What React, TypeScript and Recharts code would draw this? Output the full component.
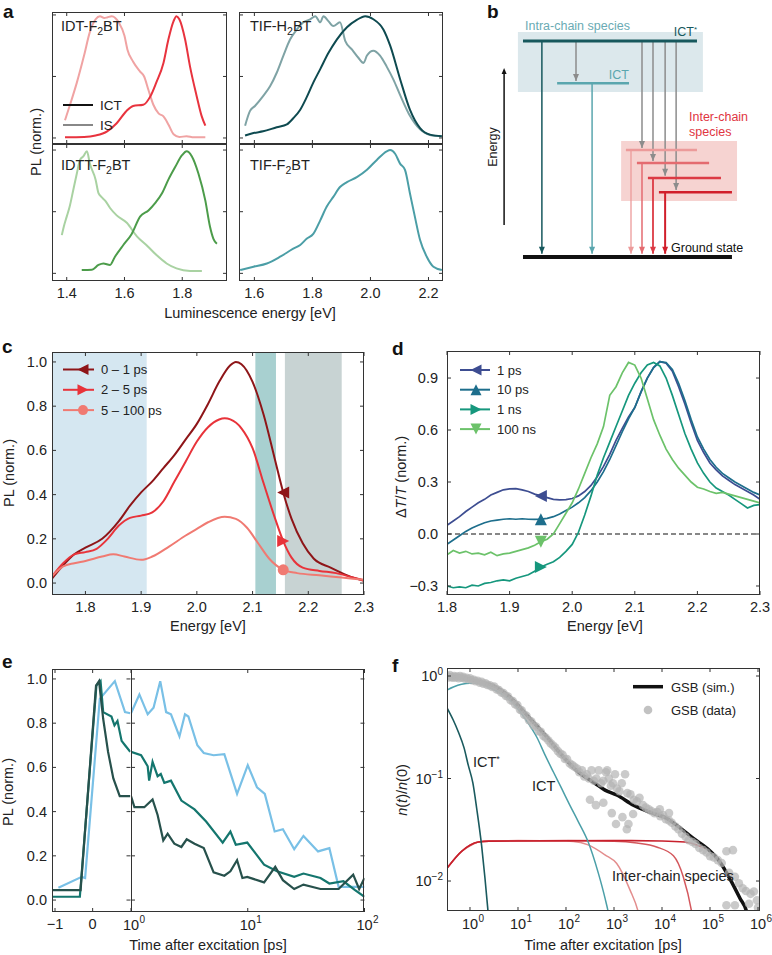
import React from "react";
import {
    ComposedChart,
    Line,
    Scatter,
    XAxis,
    YAxis,
    ReferenceArea,
    ReferenceLine,
    ReferenceDot,
} from "recharts";

const FONT = '"Liberation Sans", Arial, Helvetica, sans-serif';
const AX = "#333";
const TXT = "#222";
const TICK = 4;

type Pair = [number, number];
const pts = (a: Pair[]) => a.map(([x, y]) => ({ x, y }));

// ---- panel a: steady-state PL of the four polymers ----
const idtIS: Pair[] = [[1.394, 0.144], [1.41, 0.26], [1.435, 0.45], [1.46, 0.67], [1.48, 0.86], [1.5, 0.965], [1.515, 0.99], [1.53, 0.975], [1.54, 0.98], [1.556, 0.99], [1.58, 0.94], [1.6, 0.83], [1.61, 0.72], [1.63, 0.62], [1.654, 0.54], [1.668, 0.5], [1.683, 0.39], [1.7, 0.27], [1.718, 0.2], [1.735, 0.175], [1.752, 0.11], [1.77, 0.03], [1.79, 0.008], [1.815, 0.014], [1.84, 0.005], [1.88, 0.005]];
const idtICT: Pair[] = [[1.394, 0.005], [1.46, 0.008], [1.5, 0.02], [1.54, 0.054], [1.573, 0.12], [1.607, 0.22], [1.63, 0.26], [1.665, 0.27], [1.69, 0.34], [1.71, 0.45], [1.735, 0.61], [1.752, 0.8], [1.77, 0.95], [1.78, 0.99], [1.79, 0.965], [1.81, 0.8], [1.827, 0.58], [1.85, 0.34], [1.867, 0.18], [1.88, 0.1]];
const idttIS: Pair[] = [[1.383, 0.31], [1.39, 0.38], [1.4, 0.46], [1.41, 0.54], [1.423, 0.68], [1.435, 0.81], [1.446, 0.92], [1.458, 0.95], [1.47, 0.99], [1.48, 0.89], [1.5, 0.76], [1.51, 0.65], [1.52, 0.62], [1.533, 0.59], [1.55, 0.53], [1.573, 0.47], [1.608, 0.41], [1.643, 0.3], [1.68, 0.22], [1.71, 0.15], [1.746, 0.08], [1.78, 0.04], [1.827, 0.02], [1.868, 0.02]];
const idttICT: Pair[] = [[1.452, 0.027], [1.487, 0.03], [1.51, 0.068], [1.527, 0.08], [1.55, 0.068], [1.567, 0.135], [1.596, 0.23], [1.625, 0.32], [1.654, 0.46], [1.683, 0.51], [1.706, 0.57], [1.73, 0.65], [1.752, 0.76], [1.775, 0.86], [1.8, 0.96], [1.815, 0.99], [1.833, 0.95], [1.856, 0.81], [1.88, 0.59], [1.896, 0.38], [1.908, 0.28], [1.92, 0.24]];
const tifH2IS: Pair[] = [[1.568, 0.1], [1.585, 0.22], [1.602, 0.26], [1.63, 0.34], [1.654, 0.42], [1.677, 0.53], [1.7, 0.67], [1.723, 0.8], [1.746, 0.88], [1.769, 0.94], [1.792, 0.965], [1.81, 0.99], [1.827, 0.94], [1.838, 0.99], [1.855, 0.95], [1.872, 0.91], [1.895, 0.94], [1.913, 0.79], [1.936, 0.72], [1.959, 0.65], [1.976, 0.61], [1.988, 0.67], [2.01, 0.71], [2.033, 0.67], [2.056, 0.58], [2.08, 0.47], [2.102, 0.35], [2.136, 0.18], [2.171, 0.07], [2.205, 0.025], [2.246, 0.015]];
const tifH2ICT: Pair[] = [[1.568, 0.02], [1.597, 0.04], [1.63, 0.054], [1.677, 0.087], [1.712, 0.11], [1.734, 0.16], [1.758, 0.23], [1.78, 0.33], [1.803, 0.45], [1.827, 0.56], [1.855, 0.69], [1.884, 0.8], [1.919, 0.9], [1.953, 0.96], [1.982, 0.99], [2.01, 0.965], [2.045, 0.88], [2.068, 0.75], [2.102, 0.48], [2.136, 0.23], [2.171, 0.08], [2.205, 0.027], [2.246, 0.014]];
const tifF2ICT: Pair[] = [[1.551, 0.027], [1.597, 0.054], [1.643, 0.08], [1.689, 0.135], [1.734, 0.2], [1.758, 0.23], [1.78, 0.28], [1.803, 0.32], [1.827, 0.43], [1.849, 0.54], [1.872, 0.62], [1.895, 0.7], [1.919, 0.74], [1.953, 0.78], [1.988, 0.84], [2.022, 0.92], [2.056, 0.99], [2.068, 1.0], [2.085, 0.97], [2.102, 0.89], [2.119, 0.84], [2.136, 0.65], [2.153, 0.46], [2.171, 0.27], [2.194, 0.135], [2.217, 0.054], [2.246, 0.027]];

// ---- panel b: energy level scheme ----
const intraLevels = [
    { name: "ICT*", e: 10.0, x0: 11.7, x1: 73.4, drop: 18.4, color: "#17585d", width: 3 },
    { name: "ICT", e: 8.05, x0: 23.8, x1: 49.3, drop: 36.2, color: "#5aa6ae", width: 2.5 },
];
const interLevels = [
    { e: 4.95, x0: 48.2, x1: 73.4, drop: 50.0, feed: 53.9, color: "#ec9a9a", width: 1.3 },
    { e: 4.35, x0: 52.1, x1: 77.7, drop: 53.9, feed: 57.8, color: "#e46b70", width: 1.5 },
    { e: 3.66, x0: 56.0, x1: 81.9, drop: 57.8, feed: 62.1, color: "#dc3a44", width: 1.8 },
    { e: 3.0, x0: 59.9, x1: 85.8, drop: 62.1, feed: 66.0, color: "#d11f2b", width: 2 },
];
const relaxICT = { x: 30.5, from: 10.0, to: 8.05 };
const ground = { e: 0, x0: 11.7, x1: 85.8 };
const intraBox = { x0: 9.9, x1: 75.5, e0: 7.64, e1: 10.42 };
const interBox = { x0: 46.5, x1: 87.6, e0: 2.59, e1: 5.37 };
const energyAxis = { x: 5.0, e0: 1.48, e1: 8.61 };

// ---- panel c: time-resolved PL spectra ----
const c01: Pair[] = [[1.74, 0.02], [1.76, 0.08], [1.78, 0.13], [1.8, 0.16], [1.83, 0.2], [1.86, 0.28], [1.88, 0.35], [1.9, 0.41], [1.92, 0.46], [1.94, 0.52], [1.96, 0.58], [1.98, 0.65], [2.0, 0.72], [2.02, 0.81], [2.04, 0.91], [2.06, 0.985], [2.07, 1.0], [2.08, 0.99], [2.1, 0.91], [2.12, 0.76], [2.14, 0.56], [2.155, 0.41], [2.17, 0.29], [2.19, 0.18], [2.21, 0.11], [2.24, 0.07], [2.27, 0.035], [2.3, 0.01]];
const c25: Pair[] = [[1.74, 0.03], [1.76, 0.09], [1.78, 0.13], [1.8, 0.14], [1.82, 0.155], [1.84, 0.2], [1.86, 0.26], [1.88, 0.295], [1.9, 0.305], [1.92, 0.32], [1.94, 0.37], [1.96, 0.46], [1.98, 0.55], [2.0, 0.64], [2.02, 0.705], [2.04, 0.74], [2.05, 0.745], [2.06, 0.74], [2.08, 0.7], [2.1, 0.61], [2.12, 0.45], [2.14, 0.295], [2.155, 0.19], [2.17, 0.115], [2.19, 0.07], [2.22, 0.055], [2.25, 0.045], [2.28, 0.025], [2.3, 0.012]];
const c5100: Pair[] = [[1.74, 0.03], [1.76, 0.075], [1.78, 0.09], [1.8, 0.1], [1.83, 0.12], [1.85, 0.13], [1.87, 0.12], [1.9, 0.105], [1.92, 0.12], [1.95, 0.165], [1.98, 0.215], [2.0, 0.245], [2.02, 0.275], [2.05, 0.3], [2.07, 0.29], [2.09, 0.25], [2.11, 0.18], [2.13, 0.11], [2.155, 0.06], [2.18, 0.045], [2.22, 0.035], [2.26, 0.025], [2.3, 0.015]];
const cBands = [
    { x1: 1.74, x2: 1.91, color: "#d5e7f1" },
    { x1: 2.105, x2: 2.142, color: "#a8d0d0" },
    { x1: 2.158, x2: 2.26, color: "#c8d3d3" },
];
const cSeries = [
    { name: "0 \u2013 1 ps", color: "#8e1518", data: c01, marker: "l", at: [2.155, 0.41] },
    { name: "2 \u2013 5 ps", color: "#e8333a", data: c25, marker: "r", at: [2.155, 0.19] },
    { name: "5 \u2013 100 ps", color: "#f07a72", data: c5100, marker: "o", at: [2.155, 0.06] },
];

// ---- panel d: transient absorption ----
const dEnergy = [1.8, 1.81, 1.82, 1.83, 1.84, 1.85, 1.86, 1.87, 1.88, 1.89, 1.9, 1.91, 1.92, 1.93, 1.94, 1.95, 1.96, 1.97, 1.98, 1.99, 2.0, 2.01, 2.02, 2.03, 2.04, 2.05, 2.06, 2.07, 2.08, 2.09, 2.1, 2.11, 2.12, 2.13, 2.14, 2.15, 2.16, 2.17, 2.18, 2.19, 2.2, 2.21, 2.22, 2.23, 2.24, 2.25, 2.26, 2.27, 2.28, 2.29, 2.3];
const d1ps = [0.05, 0.075, 0.1, 0.13, 0.155, 0.18, 0.2, 0.225, 0.24, 0.255, 0.26, 0.262, 0.255, 0.245, 0.23, 0.22, 0.21, 0.2, 0.197, 0.198, 0.205, 0.22, 0.245, 0.28, 0.33, 0.39, 0.46, 0.54, 0.61, 0.675, 0.73, 0.82, 0.9, 0.96, 0.995, 0.985, 0.94, 0.85, 0.75, 0.64, 0.54, 0.47, 0.41, 0.37, 0.335, 0.31, 0.285, 0.265, 0.245, 0.225, 0.2];
const d10ps = [-0.06, -0.035, -0.01, 0.015, 0.035, 0.05, 0.065, 0.075, 0.08, 0.085, 0.088, 0.085, 0.088, 0.085, 0.084, 0.086, 0.09, 0.1, 0.115, 0.135, 0.155, 0.18, 0.21, 0.25, 0.3, 0.36, 0.43, 0.51, 0.59, 0.665, 0.73, 0.82, 0.9, 0.96, 0.995, 0.99, 0.95, 0.87, 0.77, 0.66, 0.56, 0.49, 0.43, 0.385, 0.35, 0.325, 0.3, 0.28, 0.26, 0.24, 0.225];
const d1ns = [-0.3, -0.31, -0.305, -0.31, -0.295, -0.3, -0.285, -0.28, -0.27, -0.265, -0.27, -0.255, -0.245, -0.235, -0.215, -0.19, -0.175, -0.16, -0.135, -0.1, -0.06, 0.01, 0.11, 0.22, 0.34, 0.44, 0.53, 0.62, 0.71, 0.8, 0.87, 0.93, 0.975, 0.99, 0.97, 0.9, 0.8, 0.69, 0.58, 0.49, 0.41, 0.35, 0.3, 0.265, 0.245, 0.225, 0.2, 0.175, 0.15, 0.165, 0.17];
const d100ns = [-0.12, -0.095, -0.11, -0.1, -0.115, -0.11, -0.12, -0.105, -0.125, -0.115, -0.11, -0.1, -0.09, -0.08, -0.065, -0.045, -0.03, 0.0, 0.06, 0.12, 0.18, 0.26, 0.35, 0.44, 0.52, 0.62, 0.8, 0.85, 0.93, 0.99, 0.975, 0.9, 0.78, 0.66, 0.57, 0.49, 0.43, 0.38, 0.34, 0.3, 0.27, 0.26, 0.245, 0.235, 0.24, 0.23, 0.22, 0.21, 0.2, 0.19, 0.18];
const dSeries = [
    { name: "1 ps", color: "#3d4d91", vals: d1ps, marker: "l", at: [1.95, 0.22] },
    { name: "10 ps", color: "#1d6e8c", vals: d10ps, marker: "u", at: [1.95, 0.085] },
    { name: "1 ns", color: "#16977d", vals: d1ns, marker: "r", at: [1.95, -0.19] },
    { name: "100 ns", color: "#6cc26a", vals: d100ns, marker: "d", at: [1.95, -0.045] },
];

// ---- panel e: PL kinetics (linear part t<=1 ps, log part t>=1 ps) ----
const eLightLin: Pair[] = [[-0.91, 0.056], [-0.29, 0.105], [-0.2, 0.1], [0.19, 0.91], [0.59, 0.99], [0.86, 0.85], [1.0, 0.845]];
const eTealLin: Pair[] = [[-1.08, 0.015], [-0.34, 0.015], [0.1, 0.97], [0.21, 0.99], [0.28, 0.85], [0.5, 0.83], [0.58, 0.79], [0.66, 0.81], [0.77, 0.72], [0.86, 0.7], [1.0, 0.67]];
const eDarkLin: Pair[] = [[-1.08, 0.045], [-0.32, 0.045], [0.09, 0.97], [0.17, 0.99], [0.28, 0.82], [0.41, 0.67], [0.55, 0.55], [0.72, 0.47], [1.0, 0.47]];
const eLightLog: Pair[] = [[1, 0.845], [1.18, 0.93], [1.39, 0.84], [1.56, 0.87], [1.78, 0.99], [2.0, 0.85], [2.2, 0.84], [2.6, 0.74], [2.9, 0.84], [3.1, 0.83], [3.7, 0.7], [4.2, 0.665], [5.1, 0.655], [6.3, 0.66], [8.1, 0.48], [10, 0.61], [12, 0.51], [14, 0.48], [17, 0.31], [20, 0.32], [25, 0.23], [30, 0.29], [40, 0.22], [50, 0.235], [60, 0.06], [75, 0.06], [100, 0.06]];
const eTealLog: Pair[] = [[1, 0.67], [1.22, 0.655], [1.39, 0.605], [1.43, 0.54], [1.53, 0.625], [1.69, 0.56], [1.8, 0.57], [1.93, 0.53], [2.2, 0.54], [2.7, 0.45], [3.5, 0.41], [4.4, 0.355], [6.1, 0.26], [7.1, 0.31], [7.9, 0.25], [9.9, 0.26], [11.7, 0.21], [13.8, 0.16], [17.8, 0.13], [25, 0.105], [30, 0.12], [42, 0.1], [50, 0.075], [66, 0.085], [83, 0.045], [100, 0.015]];
const eDarkLog: Pair[] = [[1, 0.47], [1.07, 0.42], [1.3, 0.42], [1.53, 0.455], [1.69, 0.385], [1.89, 0.27], [2.06, 0.3], [2.35, 0.255], [2.7, 0.24], [3.0, 0.275], [3.5, 0.255], [4.2, 0.235], [5.1, 0.125], [6.3, 0.11], [7.1, 0.13], [8.1, 0.18], [9.0, 0.1], [9.9, 0.105], [13.8, 0.08], [17.2, 0.15], [20, 0.09], [25, 0.05], [30, 0.07], [42, 0.05], [60, 0.05], [80, 0.115], [90, 0.05], [100, 0.1]];
const eSeries = [
    { color: "#79c0e6", lin: eLightLin, log: eLightLog },
    { color: "#14766e", lin: eTealLin, log: eTealLog },
    { color: "#27514c", lin: eDarkLin, log: eDarkLog },
];

// ---- panel f: population model ----
const fICTs: Pair[] = [[0.332, 0.49], [0.45, 0.37], [0.57, 0.286], [0.75, 0.2], [0.92, 0.135], [1.15, 0.09], [1.38, 0.051], [1.75, 0.022], [2.05, 0.0107], [2.4, 0.0048], [2.6, 0.003]];
const fICT: Pair[] = [[0.332, 0.73], [0.45, 0.78], [0.67, 0.83], [1.0, 0.85], [1.49, 0.85], [2.2, 0.8], [3.3, 0.73], [5, 0.65], [7.4, 0.56], [11, 0.45], [16.4, 0.345], [25, 0.25], [36.5, 0.17], [55, 0.115], [81, 0.08], [120, 0.055], [180, 0.038], [290, 0.024], [470, 0.012], [650, 0.0068], [770, 0.0048], [900, 0.003]];
const fInterA: Pair[] = [[0.332, 0.0133], [0.67, 0.0195], [1.0, 0.022], [1.49, 0.024], [2.5, 0.0245], [10, 0.0248], [100, 0.0246], [200, 0.0238], [290, 0.0225], [650, 0.018], [1140, 0.0148], [2150, 0.0082], [3200, 0.005], [3800, 0.0035]];
const fInterB: Pair[] = [[0.332, 0.0133], [0.67, 0.0195], [1.49, 0.024], [2.5, 0.0245], [100, 0.0248], [1000, 0.0245], [3000, 0.0235], [7700, 0.0215], [17300, 0.0176], [27700, 0.011], [41500, 0.005], [47000, 0.0035]];
const fInterC: Pair[] = [[0.332, 0.0133], [0.67, 0.0195], [1.49, 0.024], [2.5, 0.0245], [1000, 0.0248], [10000, 0.0246], [30000, 0.024], [60000, 0.022], [100000, 0.0195], [160000, 0.0154], [260000, 0.0105], [420000, 0.0068], [580000, 0.005], [680000, 0.0035]];
const fSim: Pair[] = [[0.332, 0.985], [0.67, 0.97], [1.0, 0.93], [1.49, 0.88], [3.3, 0.79], [7.4, 0.6], [16.4, 0.4], [36.5, 0.266], [81, 0.17], [180, 0.116], [400, 0.09], [650, 0.077], [1140, 0.069], [2540, 0.055], [5600, 0.047], [12400, 0.041], [23700, 0.033], [45000, 0.026], [85000, 0.021], [160000, 0.0154], [260000, 0.0105], [420000, 0.0068], [580000, 0.005], [680000, 0.0035]];
const fData: Pair[] = [
    [0.34, 1.0], [0.36, 0.97], [0.38, 1.02], [0.41, 0.98], [0.44, 0.96], [0.47, 1.0], [0.5, 0.97], [0.54, 0.99], [0.58, 0.95], [0.62, 1.0], [0.67, 0.96], [0.72, 0.98], [0.78, 0.94], [0.85, 0.96], [0.92, 0.93], [1.0, 0.95],
    [1.1, 0.91], [1.2, 0.92], [1.3, 0.89], [1.45, 0.9], [1.6, 0.86], [1.75, 0.88], [1.9, 0.84], [2.1, 0.85], [2.3, 0.82], [2.6, 0.81], [2.9, 0.78], [3.2, 0.79], [3.6, 0.74], [4.0, 0.73], [4.5, 0.69], [5.0, 0.68], [5.6, 0.64], [6.2, 0.63], [7.0, 0.58], [7.8, 0.57], [8.7, 0.53], [9.7, 0.52],
    [11, 0.47], [12, 0.46], [13.5, 0.42], [15, 0.41], [17, 0.37], [19, 0.36], [21, 0.33], [24, 0.32], [27, 0.29], [30, 0.285], [34, 0.26], [38, 0.25], [43, 0.235], [48, 0.22], [54, 0.21], [60, 0.2], [68, 0.185], [76, 0.175], [85, 0.17], [95, 0.155],
    [105, 0.155], [120, 0.14], [135, 0.135], [150, 0.13], [170, 0.125], [190, 0.115], [215, 0.12], [240, 0.105], [270, 0.11], [300, 0.1], [340, 0.12], [380, 0.095], [430, 0.1], [480, 0.12], [540, 0.09], [600, 0.095], [680, 0.115], [720, 0.12], [780, 0.1], [860, 0.085], [950, 0.09],
    [1050, 0.11], [1150, 0.08], [1300, 0.075], [1450, 0.09], [1700, 0.11], [1900, 0.072], [2200, 0.07], [2600, 0.062], [3000, 0.06], [3400, 0.065], [4000, 0.055], [4600, 0.052], [5300, 0.05], [6100, 0.048], [7000, 0.046], [8000, 0.047], [9200, 0.043],
    [10500, 0.044], [12000, 0.04], [14000, 0.039], [16000, 0.037], [19000, 0.034], [22000, 0.032], [26000, 0.029], [31000, 0.027], [36000, 0.025], [43000, 0.024], [50000, 0.023], [60000, 0.021], [72000, 0.02], [85000, 0.019],
    [100000, 0.0175], [120000, 0.017], [145000, 0.016], [175000, 0.015], [220000, 0.0195], [300000, 0.02], [250000, 0.012], [330000, 0.011], [400000, 0.0095], [480000, 0.0085], [560000, 0.008], [700000, 0.0075], [820000, 0.0079], [950000, 0.0065], [220000, 0.0058], [330000, 0.0058], [650000, 0.006], [1000000, 0.0055],
    [316, 0.062], [420, 0.055], [600, 0.058], [900, 0.046], [1100, 0.036], [1500, 0.042], [1850, 0.032], [2000, 0.036], [2500, 0.045], [14000, 0.046], [9000, 0.05],
];

// ---- axis helpers ----
type Fmt = "none" | "log" | number;
const num = (v: number, d: number) => v.toFixed(d).replace("-", "\u2212");
const expo = (v: number) => num(Math.round(Math.log10(v)), 0);
const tf = { fontFamily: FONT, fontSize: 14.5, fill: TXT };

function bottomTick(h: number, fmt: Fmt) {
    return (t: any) => {
        const { x, y, payload } = t;
        const v = payload.value;
        return (
            <g>
                <line x1={x} x2={x} y1={y} y2={y - TICK} stroke={AX} />
                <line x1={x} x2={x} y1={y - h} y2={y - h + TICK} stroke={AX} />
                {fmt === "log" ? (
                    <g>
                        <text x={x} y={y + 18} textAnchor="middle" {...tf}>10</text>
                        <text x={x + 8.5} y={y + 11} {...tf} fontSize={10}>{expo(v)}</text>
                    </g>
                ) : fmt !== "none" ? (
                    <text x={x} y={y + 17} textAnchor="middle" {...tf}>{num(v, fmt)}</text>
                ) : null}
            </g>
        );
    };
}

function leftTick(w: number, fmt: Fmt, gap: number, atLeft: boolean, atRight: boolean) {
    return (t: any) => {
        const { x, y, payload } = t;
        const v = payload.value;
        return (
            <g>
                {atLeft && <line x1={x} x2={x + TICK} y1={y} y2={y} stroke={AX} />}
                {atRight && <line x1={x + w} x2={x + w - TICK} y1={y} y2={y} stroke={AX} />}
                {fmt === "log" ? (
                    <text x={x - gap} y={y + 5} textAnchor="end" {...tf}>
                        10<tspan dy={-6} fontSize={10}>{expo(v)}</tspan>
                    </text>
                ) : fmt !== "none" ? (
                    <text x={x - gap} y={y + 5} textAnchor="end" {...tf}>{num(v, fmt)}</text>
                ) : null}
            </g>
        );
    };
}

type PlotProps = {
    left: number; top: number; w: number; h: number;
    xDomain: [number, number]; yDomain: [number, number];
    xTicks: number[]; yTicks: number[];
    xLog?: boolean; yLog?: boolean;
    xFmt: Fmt; yFmt: Fmt;
    yGap?: number;
    padL?: number; padR?: number;
    yLeft?: boolean; yRight?: boolean;
    openRight?: boolean;
    children?: React.ReactNode;
};

function Plot(p: PlotProps) {
    const padL = p.padL ?? 50;
    const padR = p.padR ?? 20;
    const padT = 4;
    const padB = 24;
    return (
        <div style={{ position: "absolute", left: p.left - padL, top: p.top - padT }}>
            <ComposedChart width={p.w + padL + padR} height={p.h + padT + padB} margin={{ top: padT, right: padR, bottom: 0, left: 0 }}>
                <XAxis type="number" dataKey="x" scale={p.xLog ? "log" : "linear"} domain={p.xDomain} allowDataOverflow
                    ticks={p.xTicks} interval={0} height={padB} tickSize={0} tickMargin={0} tickLine={false} axisLine={false}
                    tick={bottomTick(p.h, p.xFmt)} />
                <YAxis type="number" scale={p.yLog ? "log" : "linear"} domain={p.yDomain} allowDataOverflow
                    ticks={p.yTicks} interval={0} width={padL} tickSize={0} tickMargin={0} tickLine={false} axisLine={false}
                    tick={leftTick(p.w, p.yFmt, p.yGap ?? 5, p.yLeft ?? true, p.yRight ?? true)} />
                {p.children}
            </ComposedChart>
            <div style={{
                position: "absolute", left: padL, top: padT, width: p.w, height: p.h,
                border: `1px solid ${AX}`, borderRight: p.openRight ? "none" : `1px solid ${AX}`,
                boxSizing: "border-box", pointerEvents: "none",
            }} />
        </div>
    );
}

const curve = (d: Pair[], color: string, w = 2, type: "monotone" | "linear" = "monotone") => (
    <Line data={pts(d)} dataKey="y" type={type} stroke={color} strokeWidth={w} dot={false} isAnimationActive={false} />
);

function tri(cx: number, cy: number, dir: string, s: number) {
    if (dir === "l") return `M${cx - s},${cy} L${cx + s},${cy - s} L${cx + s},${cy + s} Z`;
    if (dir === "r") return `M${cx + s},${cy} L${cx - s},${cy - s} L${cx - s},${cy + s} Z`;
    if (dir === "u") return `M${cx},${cy - s} L${cx - s},${cy + s} L${cx + s},${cy + s} Z`;
    return `M${cx},${cy + s} L${cx - s},${cy - s} L${cx + s},${cy - s} Z`;
}

const marker = (dir: string, color: string, cx: number, cy: number, s = 5) =>
    dir === "o" ? <circle cx={cx} cy={cy} r={s} fill={color} /> : <path d={tri(cx, cy, dir, s)} fill={color} />;

const arrowDown = (color: string) => (p: any) => (
    <path d={`M${p.cx},${p.cy} L${p.cx - 3},${p.cy - 7} L${p.cx + 3},${p.cy - 7} Z`} fill={color} />
);

const A_L_X: [number, number] = [1.349, 1.955];
const A_R_X: [number, number] = [1.547, 2.25];
const A_T_Y: [number, number] = [-0.049, 1.024];
const A_B_Y: [number, number] = [-0.062, 1.049];

function Scheme() {
    return (
        <div style={{ position: "absolute", left: 490, top: 0 }}>
            <ComposedChart width={282} height={280} margin={{ top: 0, right: 0, bottom: 0, left: 0 }}>
                <XAxis type="number" dataKey="x" domain={[0, 100]} hide allowDataOverflow />
                <YAxis type="number" domain={[-1.065, 11.9]} hide allowDataOverflow />
                <ReferenceArea x1={intraBox.x0} x2={intraBox.x1} y1={intraBox.e0} y2={intraBox.e1} fill="#dce8ec" fillOpacity={1} stroke="none" />
                <ReferenceArea x1={interBox.x0} x2={interBox.x1} y1={interBox.e0} y2={interBox.e1} fill="#f6d3d1" fillOpacity={1} stroke="none" />
                {/* energy axis */}
                <ReferenceLine segment={[{ x: energyAxis.x, y: energyAxis.e0 }, { x: energyAxis.x, y: energyAxis.e1 }]} stroke="#111" strokeWidth={1.5} />
                <ReferenceDot x={energyAxis.x} y={energyAxis.e1} r={3} shape={(p: any) => <path d={`M${p.cx},${p.cy - 3} L${p.cx - 2.5},${p.cy + 3} L${p.cx + 2.5},${p.cy + 3} Z`} fill="#111" />} />
                {/* radiative decay of intra-chain species */}
                {intraLevels.map((l) => (
                    <ReferenceLine key={"d" + l.name} segment={[{ x: l.drop, y: l.e }, { x: l.drop, y: 0.15 }]} stroke={l.color} strokeWidth={1.5} />
                ))}
                {intraLevels.map((l) => (
                    <ReferenceDot key={"h" + l.name} x={l.drop} y={0.15} r={3} shape={arrowDown(l.color)} />
                ))}
                {/* ICT* -> ICT relaxation */}
                <ReferenceLine segment={[{ x: relaxICT.x, y: relaxICT.from }, { x: relaxICT.x, y: relaxICT.to + 0.1 }]} stroke="#8c8c8c" strokeWidth={1.5} />
                <ReferenceDot x={relaxICT.x} y={relaxICT.to + 0.1} r={3} shape={arrowDown("#8c8c8c")} />
                {/* transfer to inter-chain species */}
                {interLevels.map((l, i) => (
                    <ReferenceLine key={"g" + i} segment={[{ x: l.feed, y: 10 }, { x: l.feed, y: l.e + 0.1 }]} stroke="#8c8c8c" strokeWidth={1.5} />
                ))}
                {interLevels.map((l, i) => (
                    <ReferenceDot key={"gh" + i} x={l.feed} y={l.e + 0.1} r={3} shape={arrowDown("#8c8c8c")} />
                ))}
                {interLevels.map((l, i) => (
                    <ReferenceLine key={"r" + i} segment={[{ x: l.drop, y: l.e }, { x: l.drop, y: 0.15 }]} stroke={l.color} strokeWidth={l.width} />
                ))}
                {interLevels.map((l, i) => (
                    <ReferenceDot key={"rh" + i} x={l.drop} y={0.15} r={3} shape={arrowDown(l.color)} />
                ))}
                {/* levels */}
                {intraLevels.map((l) => (
                    <ReferenceLine key={l.name} segment={[{ x: l.x0, y: l.e }, { x: l.x1, y: l.e }]} stroke={l.color} strokeWidth={l.width} />
                ))}
                {interLevels.map((l, i) => (
                    <ReferenceLine key={"l" + i} segment={[{ x: l.x0, y: l.e }, { x: l.x1, y: l.e }]} stroke={l.color} strokeWidth={2.5} />
                ))}
                <ReferenceLine segment={[{ x: ground.x0, y: ground.e }, { x: ground.x1, y: ground.e }]} stroke="#111" strokeWidth={4} />
            </ComposedChart>
        </div>
    );
}

const sub = (s: string) => <tspan dy={4} fontSize={10.5}>{s}</tspan>;

export default function App() {
    const lab = { fontFamily: FONT, fill: TXT };
    return (
        <div style={{ position: "absolute", left: 0, top: 0, width: 772, height: 955, background: "#fff", overflow: "hidden" }}>
            {/* a */}
            <Plot left={52} top={12} w={175} h={132} xDomain={A_L_X} yDomain={A_T_Y} xTicks={[1.4, 1.6, 1.8]} yTicks={[0, 0.5, 1]} xFmt="none" yFmt="none" padL={10}>
                {curve(idtIS, "#f0a3a3")}
                {curve(idtICT, "#e8333e")}
            </Plot>
            <Plot left={52} top={144} w={175} h={137} xDomain={A_L_X} yDomain={A_B_Y} xTicks={[1.4, 1.6, 1.8]} yTicks={[0, 0.5, 1]} xFmt={1} yFmt="none" padL={10}>
                {curve(idttIS, "#a9d2a2")}
                {curve(idttICT, "#4c9c4a")}
            </Plot>
            <Plot left={239} top={12} w={204} h={132} xDomain={A_R_X} yDomain={A_T_Y} xTicks={[1.6, 1.8, 2.0, 2.2]} yTicks={[0, 0.5, 1]} xFmt="none" yFmt="none" padL={10}>
                {curve(tifH2IS, "#7fa3a5")}
                {curve(tifH2ICT, "#0e4a50")}
            </Plot>
            <Plot left={239} top={144} w={204} h={137} xDomain={A_R_X} yDomain={A_B_Y} xTicks={[1.6, 1.8, 2.0, 2.2]} yTicks={[0, 0.5, 1]} xFmt={1} yFmt="none" padL={10}>
                {curve(tifF2ICT, "#4b9ea6")}
            </Plot>

            {/* b */}
            <Scheme />

            {/* c */}
            <Plot left={52} top={352} w={312} h={243} xDomain={[1.74, 2.3]} yDomain={[-0.054, 1.045]} xTicks={[1.8, 1.9, 2.0, 2.1, 2.2, 2.3]} yTicks={[0, 0.2, 0.4, 0.6, 0.8, 1.0]} xFmt={1} yFmt={1} yGap={5}>
                {cBands.map((b, i) => (
                    <ReferenceArea key={i} x1={b.x1} x2={b.x2} fill={b.color} fillOpacity={1} stroke="none" />
                ))}
                {cSeries.map((s) => curve(s.data as Pair[], s.color, 2))}
                {cSeries.map((s) => (
                    <ReferenceDot key={s.name} x={s.at[0]} y={s.at[1]} r={5} shape={(p: any) => marker(s.marker, s.color, p.cx, p.cy, s.marker === "o" ? 5.5 : 6)} />
                ))}
            </Plot>

            {/* d */}
            <Plot left={447} top={351} w={313} h={244} xDomain={[1.8, 2.3]} yDomain={[-0.352, 1.056]} xTicks={[1.8, 1.9, 2.0, 2.1, 2.2, 2.3]} yTicks={[-0.3, 0, 0.3, 0.6, 0.9]} xFmt={1} yFmt={1} yGap={9}>
                <ReferenceLine y={0} stroke="#111" strokeWidth={1.2} strokeDasharray="5 3" />
                {dSeries.map((s) => curve(dEnergy.map((e, i) => [e, s.vals[i]] as Pair), s.color, 1.7, "linear"))}
                {dSeries.map((s) => (
                    <ReferenceDot key={s.name} x={s.at[0]} y={s.at[1]} r={5} shape={(p: any) => marker(s.marker, s.color, p.cx, p.cy, 6)} />
                ))}
            </Plot>

            {/* e */}
            <Plot left={52} top={669} w={78.5} h={243} xDomain={[-1.08, 1.006]} yDomain={[-0.054, 1.045]} xTicks={[-1, 0]} yTicks={[0, 0.2, 0.4, 0.6, 0.8, 1.0]} xFmt={0} yFmt={1} yGap={5} padR={0} openRight>
                {eSeries.map((s) => curve(s.lin, s.color, 2.2, "linear"))}
            </Plot>
            <Plot left={130.5} top={669} w={233.5} h={243} xLog xDomain={[1, 100]} yDomain={[-0.054, 1.045]} xTicks={[1, 10, 100]} yTicks={[0, 0.2, 0.4, 0.6, 0.8, 1.0]} xFmt="log" yFmt="none" padL={20}>
                {eSeries.map((s) => curve(s.log, s.color, 2.2, "linear"))}
            </Plot>

            {/* f */}
            <Plot left={447} top={668} w={313} h={243} xLog yLog xDomain={[0.332, 1.1e6]} yDomain={[0.0051, 1.197]} xTicks={[1, 10, 100, 1e3, 1e4, 1e5, 1e6]} yTicks={[0.01, 0.1, 1]} xFmt="log" yFmt="log" yGap={4}>
                <Scatter data={pts(fData)} dataKey="y" isAnimationActive={false} shape={(p: any) => <circle cx={p.cx} cy={p.cy} r={4.3} fill="#b3b3b3" fillOpacity={0.7} />} />
                {curve(fInterA, "#e38d8d", 1.5)}
                {curve(fInterB, "#d4585d", 1.5)}
                {curve(fInterC, "#c8202c", 1.6)}
                {curve(fICTs, "#1a5a5e", 1.6)}
                {curve(fICT, "#4b9fa8", 1.5)}
                {curve(fSim, "#111", 3.5)}
            </Plot>

            {/* texts, legends */}
            <svg width={772} height={955} style={{ position: "absolute", left: 0, top: 0, pointerEvents: "none" }}>
                {[["a", 3, 18], ["b", 487, 18], ["c", 2, 353], ["d", 392, 355], ["e", 2, 668], ["f", 392, 672]].map(([t, x, y]) => (
                    <text key={t as string} x={x as number} y={y as number} {...lab} fontSize={19} fontWeight="bold" fill="#111">{t}</text>
                ))}

                {/* a */}
                <text x={61} y={31} {...lab} fontSize={14.5}>IDT-F{sub("2")}<tspan dy={-4}>BT</tspan></text>
                <text x={250} y={31} {...lab} fontSize={14.5}>TIF-H{sub("2")}<tspan dy={-4}>BT</tspan></text>
                <text x={61} y={170} {...lab} fontSize={14.5}>IDTT-F{sub("2")}<tspan dy={-4}>BT</tspan></text>
                <text x={250} y={170} {...lab} fontSize={14.5}>TIF-F{sub("2")}<tspan dy={-4}>BT</tspan></text>
                <line x1={63} x2={93} y1={105} y2={105} stroke="#111" strokeWidth={2} />
                <text x={100} y={110} {...lab} fontSize={13.5}>ICT</text>
                <line x1={63} x2={93} y1={125} y2={125} stroke="#888" strokeWidth={2} />
                <text x={100} y={130} {...lab} fontSize={13.5}>IS</text>
                <text transform="translate(36,142) rotate(-90)" x={0} y={5} textAnchor="middle" {...lab} fontSize={14.5}>PL (norm.)</text>
                <text x={250} y={318} textAnchor="middle" {...lab} fontSize={14.5}>Luminescence energy [eV]</text>

                {/* b */}
                <text x={525} y={30} {...lab} fontSize={12.5} fill="#6aabb4">Intra-chain species</text>
                <text x={697} y={36} textAnchor="end" {...lab} fontSize={12.5} fill="#17585d">ICT<tspan dy={-4} fontSize={8}>*</tspan></text>
                <text x={629} y={79} textAnchor="end" {...lab} fontSize={12.5} fill="#5aa6ae">ICT</text>
                <text x={689} y={121} {...lab} fontSize={12.5} fill="#e0353f">Inter-chain</text>
                <text x={689} y={136} {...lab} fontSize={12.5} fill="#e0353f">species</text>
                <text transform="translate(493,147) rotate(-90)" x={0} y={4} textAnchor="middle" {...lab} fontSize={12.5}>Energy</text>
                <text x={671} y={252} {...lab} fontSize={12.5} fill="#111">Ground state</text>

                {/* c */}
                {cSeries.map((s, i) => (
                    <g key={s.name}>
                        <line x1={63} x2={94} y1={369.5 + i * 20.3} y2={369.5 + i * 20.3} stroke={s.color} strokeWidth={2} />
                        {marker(s.marker, s.color, 83, 369.5 + i * 20.3, s.marker === "o" ? 5 : 5.5)}
                        <text x={101} y={374 + i * 20.3} {...lab} fontSize={13}>{s.name}</text>
                    </g>
                ))}
                <text transform="translate(8.5,473) rotate(-90)" x={0} y={5} textAnchor="middle" {...lab} fontSize={14.5}>PL (norm.)</text>
                <text x={208} y={631} textAnchor="middle" {...lab} fontSize={14.5}>Energy [eV]</text>

                {/* d */}
                {dSeries.map((s, i) => (
                    <g key={s.name}>
                        <line x1={460} x2={490} y1={370 + i * 19.7} y2={370 + i * 19.7} stroke={s.color} strokeWidth={2} />
                        {marker(s.marker, s.color, 476, 370 + i * 19.7, 5.5)}
                        <text x={497} y={374.5 + i * 19.7} {...lab} fontSize={13}>{s.name}</text>
                    </g>
                ))}
                <text transform="translate(401,477) rotate(-90)" x={0} y={5} textAnchor="middle" {...lab} fontSize={14.5}>
                    {"\u0394"}<tspan fontStyle="italic">T</tspan>/<tspan fontStyle="italic">T</tspan> (norm.)
                </text>
                <text x={605} y={631} textAnchor="middle" {...lab} fontSize={14.5}>Energy [eV]</text>

                {/* e */}
                <text transform="translate(8,792) rotate(-90)" x={0} y={5} textAnchor="middle" {...lab} fontSize={14.5}>PL (norm.)</text>
                <text x={208} y={950} textAnchor="middle" {...lab} fontSize={14.5}>Time after excitation [ps]</text>

                {/* f */}
                <line x1={633} x2={663} y1={686.7} y2={686.7} stroke="#111" strokeWidth={3.5} />
                <text x={671} y={691.5} {...lab} fontSize={13}>GSB (sim.)</text>
                <circle cx={648} cy={710} r={4.3} fill="#b3b3b3" fillOpacity={0.8} />
                <text x={671} y={714.5} {...lab} fontSize={13}>GSB (data)</text>
                <text x={473} y={767} {...lab} fontSize={14.5}>ICT<tspan dy={-5} fontSize={9}>*</tspan></text>
                <text x={532} y={791} {...lab} fontSize={14.5}>ICT</text>
                <text x={612} y={881} {...lab} fontSize={14.5}>Inter-chain species</text>
                <text transform="translate(402,790) rotate(-90)" x={0} y={5} textAnchor="middle" {...lab} fontSize={14.5}>
                    <tspan fontStyle="italic">n</tspan>(<tspan fontStyle="italic">t</tspan>)/<tspan fontStyle="italic">n</tspan>(0)
                </text>
                <text x={603} y={950} textAnchor="middle" {...lab} fontSize={14.5}>Time after excitation [ps]</text>
            </svg>
        </div>
    );
}
